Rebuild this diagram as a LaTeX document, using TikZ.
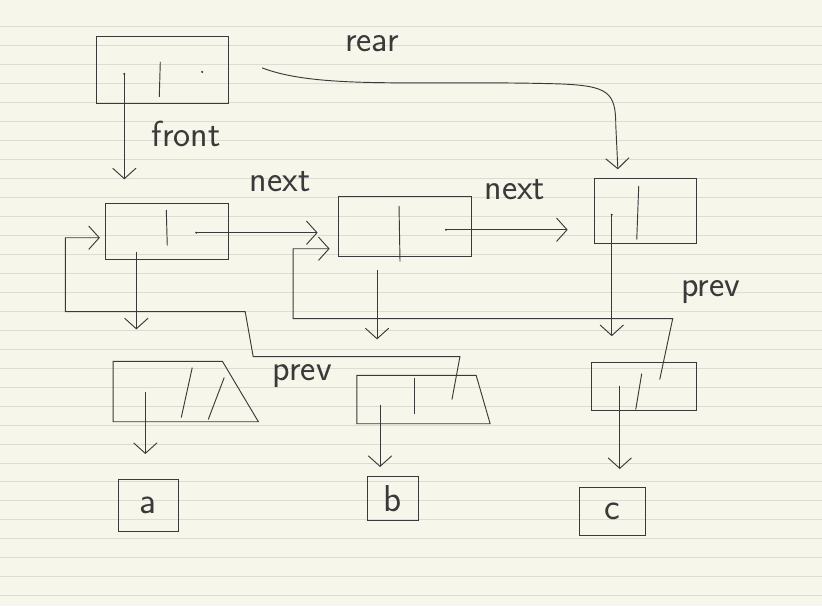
\documentclass[tikz,border=0pt]{standalone}
\usetikzlibrary{arrows.meta,positioning,calc}

\definecolor{papercol}{HTML}{F7F6EA}
\definecolor{rulecol}{HTML}{DDDCD2}
\definecolor{ink}{HTML}{3A3A3A}

\begin{document}
\begin{tikzpicture}[
    x=0.03cm, y=-0.03cm,
    box/.style={rectangle,draw=ink,line width=0.8pt,inner sep=0pt},
    elem box/.style={rectangle,inner sep=0pt},
    val box/.style={rectangle,draw=ink,line width=0.8pt,inner sep=0pt,text=ink,font=\sffamily\fontsize{32}{36}\selectfont},
    stroke/.style={draw=ink,line width=0.8pt},
    tag/.style={font=\sffamily\fontsize{31}{36}\selectfont,text=ink},
    arrow/.style={-{Straight Barb[length=9pt,width=20pt]},draw=ink,line width=0.8pt,shorten >=#1},
    arrow/.default=0pt
]

% Papel
\fill[papercol] (0,0) rectangle (822,607);
\foreach \k in {0,...,30} {
    \pgfmathsetmacro{\ry}{26.5+19*\k}
    \draw[rulecol,line width=0.8pt] (0,\ry) -- (822,\ry);
}
\useasboundingbox (0,0) rectangle (822,607);

% Cola
\node[box,minimum width=3.96cm,minimum height=2.01cm] (queue) at (162,70.5) {};
\draw[stroke] (160,62) -- (159,97);
\coordinate (qfront) at (124,74);
\coordinate (qdot) at (202,72);
\coordinate (qrear) at (262,68);
\fill[ink] (qfront) circle (1pt) (qdot) circle (1pt);

% Nodos
\node[box,minimum width=3.69cm,minimum height=1.68cm] (n1) at (166.5,232) {};
\node[box,minimum width=4.02cm,minimum height=1.8cm] (n2) at (405,227) {};
\node[box,minimum width=3.06cm,minimum height=1.95cm] (n3) at (646,211.5) {};
\draw[stroke] (166,210) -- (167,246);
\draw[stroke] (399,206) -- (400,262);
\draw[stroke] (639,186) -- (637,240);
\coordinate (n1next) at (196,233);
\coordinate (n2next) at (446,230);
\coordinate (n1down) at (136,252);
\coordinate (n2down) at (377,270);
\coordinate (n3down) at (612,215);
\fill[ink] (n1next) circle (1pt) (n2next) circle (1pt) (n3down) circle (1pt);

% Elementos
\node[elem box,minimum width=4.35cm,minimum height=1.8cm] (ea) at (185.5,392) {};
\node[elem box,minimum width=3.99cm,minimum height=1.44cm] (eb) at (423.5,400) {};
\node[box,minimum width=3.15cm,minimum height=1.44cm] (ec) at (644.5,387) {};
\draw[stroke] (ea.north west) -- ($(ea.north east)+(-36,0)$) -- (ea.south east) -- (ea.south west) -- cycle;
\draw[stroke] (eb.north west) -- ($(eb.north east)+(-14,0)$) -- (eb.south east) -- (eb.south west) -- cycle;
\draw[stroke] (192,368) -- (181,418);
\draw[stroke] (224,378) -- (208,420);
\draw[stroke] (414,378) -- (414,414);
\draw[stroke] (642,374) -- (636,410);
\coordinate (eaval) at (145,392);
\coordinate (ebval) at (380,405);
\coordinate (ecval) at (620,386);
\coordinate (ebprev) at (452,400);
\coordinate (ecprev) at (660,380);

% Valores
\node[val box,minimum width=1.8cm,minimum height=1.56cm] (va) at (148,506) {a};
\node[val box,minimum width=1.53cm,minimum height=1.32cm] (vb) at (392.5,499) {b};
\node[val box,minimum width=1.98cm,minimum height=1.44cm] (vc) at (613,512) {c};

% front / rear
\draw[arrow=0.72cm] (qfront) -- (qfront |- n1.north);
\draw[arrow=0.27cm] (qrear) .. controls (320,90) and (420,80) .. (560,84)
    .. controls (608,86) and (616,92) .. (616,125) -- ($(n3.north west)+(24,0)$);

% next
\draw[arrow=0.6cm] (n1next) -- (n1next -| n2.west);
\draw[arrow=0.8cm] (n2next) -- (n2next -| n3.west);

% Conexiones hacia abajo
\draw[arrow=0.96cm] (n1down) -- (n1down |- ea.north);
\draw[arrow=1.08cm] (n2down) -- (n2down |- eb.north);
\draw[arrow=0.78cm] (n3down) -- (n3down |- ec.north);
\draw[arrow=0.75cm] (eaval) -- (eaval |- va.north);
\draw[arrow=0.27cm] (ebval) -- (ebval |- vb.north);
\draw[arrow=0.54cm] (ecval) -- (ecval |- vc.north);

% prev
\draw[arrow=0.15cm] (ebprev) -- (460,357) -- (253,357) -- (245,312) -- (65,312) |- ($(n1.west)+(0,6)$);
\draw[arrow=0.24cm] (ecprev) -- (673,319) -- (293,319) |- ($(n2.west)+(0,22)$);

% Etiquetas
\node[tag] (lrear) at (372,44) {rear};
\node[tag] (lfront) at (186,134) {front};
\node[tag] (lnext1) at (280,182) {next};
\node[tag] (lnext2) at (515,190) {next};
\node[tag] (lprev1) at (302,376) {prev};
\node[tag] (lprev2) at (711,292) {prev};

\end{tikzpicture}
\end{document}
